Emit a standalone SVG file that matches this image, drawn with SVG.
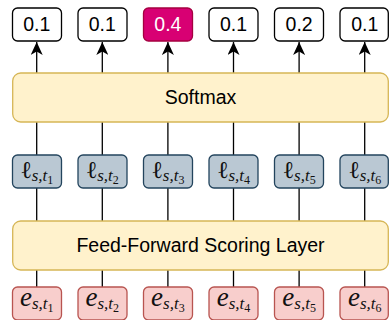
<svg xmlns="http://www.w3.org/2000/svg" width="389" height="320" viewBox="0 0 389 320">
<defs>
<style>
.out{fill:#ffffff;stroke:#000000;stroke-width:1.3}
.hot{fill:#d80073;stroke:#a50040;stroke-width:1.3}
.layer{fill:#fff2cc;stroke:#d6b656;stroke-width:1.3}
.lg{fill:#bac8d3;stroke:#23445d;stroke-width:1.3}
.emb{fill:#f8cecc;stroke:#b85450;stroke-width:1.3}
.t{font-family:"Liberation Sans",Arial,sans-serif;font-size:19.5px;fill:#000;text-anchor:middle}
.tw{fill:#ffffff}
.m{font-family:"Liberation Serif","DejaVu Serif",serif;fill:#111;text-anchor:middle}
.it{font-style:italic}
.big{font-size:24px}
.bige{font-size:27px;font-style:italic}
.sub{font-size:17px;font-style:italic}
.ss{font-size:12px}
.conn line{stroke:#000;stroke-width:1.3}
</style>
<marker id="arr" viewBox="0 0 14 12" refX="13" refY="6" markerWidth="14" markerHeight="12" markerUnits="userSpaceOnUse" orient="auto">
<path d="M13,6 L0,0 L3.5,6 L0,12 Z" fill="#000"/>
</marker>
</defs>
<g id="connectors" class="conn">
<line x1="36.7" y1="73" x2="36.7" y2="42" marker-end="url(#arr)"/>
<line x1="102.3" y1="73" x2="102.3" y2="42" marker-end="url(#arr)"/>
<line x1="167.9" y1="73" x2="167.9" y2="42" marker-end="url(#arr)"/>
<line x1="233.5" y1="73" x2="233.5" y2="42" marker-end="url(#arr)"/>
<line x1="299.1" y1="73" x2="299.1" y2="42" marker-end="url(#arr)"/>
<line x1="364.7" y1="73" x2="364.7" y2="42" marker-end="url(#arr)"/>
<line x1="36.7" y1="122" x2="36.7" y2="155"/>
<line x1="102.3" y1="122" x2="102.3" y2="155"/>
<line x1="167.9" y1="122" x2="167.9" y2="155"/>
<line x1="233.5" y1="122" x2="233.5" y2="155"/>
<line x1="299.1" y1="122" x2="299.1" y2="155"/>
<line x1="364.7" y1="122" x2="364.7" y2="155"/>
<line x1="36.7" y1="188" x2="36.7" y2="221"/>
<line x1="102.3" y1="188" x2="102.3" y2="221"/>
<line x1="167.9" y1="188" x2="167.9" y2="221"/>
<line x1="233.5" y1="188" x2="233.5" y2="221"/>
<line x1="299.1" y1="188" x2="299.1" y2="221"/>
<line x1="364.7" y1="188" x2="364.7" y2="221"/>
<line x1="36.7" y1="270" x2="36.7" y2="287"/>
<line x1="102.3" y1="270" x2="102.3" y2="287"/>
<line x1="167.9" y1="270" x2="167.9" y2="287"/>
<line x1="233.5" y1="270" x2="233.5" y2="287"/>
<line x1="299.1" y1="270" x2="299.1" y2="287"/>
<line x1="364.7" y1="270" x2="364.7" y2="287"/>
</g>
<g id="p1"><rect class="out" x="12.5" y="8" width="49" height="33" rx="5"/><text class="t" x="36.7" y="31">0.1</text></g>
<g id="p2"><rect class="out" x="78" y="8" width="49" height="33" rx="5"/><text class="t" x="102.3" y="31">0.1</text></g>
<g id="p3"><rect class="hot" x="143.5" y="8" width="49" height="33" rx="5"/><text class="t tw" x="167.9" y="31">0.4</text></g>
<g id="p4"><rect class="out" x="209" y="8" width="49" height="33" rx="5"/><text class="t" x="233.5" y="31">0.1</text></g>
<g id="p5"><rect class="out" x="274.5" y="8" width="49" height="33" rx="5"/><text class="t" x="299.1" y="31">0.2</text></g>
<g id="p6"><rect class="out" x="340" y="8" width="48.3" height="33" rx="5"/><text class="t" x="364.7" y="31">0.1</text></g>
<g id="softmax"><rect class="layer" x="12.7" y="73" width="375.6" height="49" rx="8"/><text class="t" x="200.5" y="104">Softmax</text></g>
<g id="l1"><rect class="lg" x="12.5" y="155" width="49" height="33" rx="5"/><text class="m" x="36.7" y="178"><tspan class="big">ℓ</tspan><tspan class="sub" dy="3">s,t</tspan><tspan class="ss" dy="3">1</tspan></text></g>
<g id="l2"><rect class="lg" x="78" y="155" width="49" height="33" rx="5"/><text class="m" x="102.3" y="178"><tspan class="big">ℓ</tspan><tspan class="sub" dy="3">s,t</tspan><tspan class="ss" dy="3">2</tspan></text></g>
<g id="l3"><rect class="lg" x="143.5" y="155" width="49" height="33" rx="5"/><text class="m" x="167.9" y="178"><tspan class="big">ℓ</tspan><tspan class="sub" dy="3">s,t</tspan><tspan class="ss" dy="3">3</tspan></text></g>
<g id="l4"><rect class="lg" x="209" y="155" width="49" height="33" rx="5"/><text class="m" x="233.5" y="178"><tspan class="big">ℓ</tspan><tspan class="sub" dy="3">s,t</tspan><tspan class="ss" dy="3">4</tspan></text></g>
<g id="l5"><rect class="lg" x="274.5" y="155" width="49" height="33" rx="5"/><text class="m" x="299.1" y="178"><tspan class="big">ℓ</tspan><tspan class="sub" dy="3">s,t</tspan><tspan class="ss" dy="3">5</tspan></text></g>
<g id="l6"><rect class="lg" x="340" y="155" width="48.3" height="33" rx="5"/><text class="m" x="364.7" y="178"><tspan class="big">ℓ</tspan><tspan class="sub" dy="3">s,t</tspan><tspan class="ss" dy="3">6</tspan></text></g>
<g id="ffsl"><rect class="layer" x="12.7" y="221" width="375.6" height="49" rx="8"/><text class="t" x="200.5" y="252">Feed-Forward Scoring Layer</text></g>
<g id="e1"><rect class="emb" x="12.5" y="287" width="49" height="33" rx="5"/><text class="m" x="36.7" y="306"><tspan class="bige">e</tspan><tspan class="sub" dy="3">s,t</tspan><tspan class="ss" dy="3">1</tspan></text></g>
<g id="e2"><rect class="emb" x="78" y="287" width="49" height="33" rx="5"/><text class="m" x="102.3" y="306"><tspan class="bige">e</tspan><tspan class="sub" dy="3">s,t</tspan><tspan class="ss" dy="3">2</tspan></text></g>
<g id="e3"><rect class="emb" x="143.5" y="287" width="49" height="33" rx="5"/><text class="m" x="167.9" y="306"><tspan class="bige">e</tspan><tspan class="sub" dy="3">s,t</tspan><tspan class="ss" dy="3">3</tspan></text></g>
<g id="e4"><rect class="emb" x="209" y="287" width="49" height="33" rx="5"/><text class="m" x="233.5" y="306"><tspan class="bige">e</tspan><tspan class="sub" dy="3">s,t</tspan><tspan class="ss" dy="3">4</tspan></text></g>
<g id="e5"><rect class="emb" x="274.5" y="287" width="49" height="33" rx="5"/><text class="m" x="299.1" y="306"><tspan class="bige">e</tspan><tspan class="sub" dy="3">s,t</tspan><tspan class="ss" dy="3">5</tspan></text></g>
<g id="e6"><rect class="emb" x="340" y="287" width="48.3" height="33" rx="5"/><text class="m" x="364.7" y="306"><tspan class="bige">e</tspan><tspan class="sub" dy="3">s,t</tspan><tspan class="ss" dy="3">6</tspan></text></g>
</svg>
